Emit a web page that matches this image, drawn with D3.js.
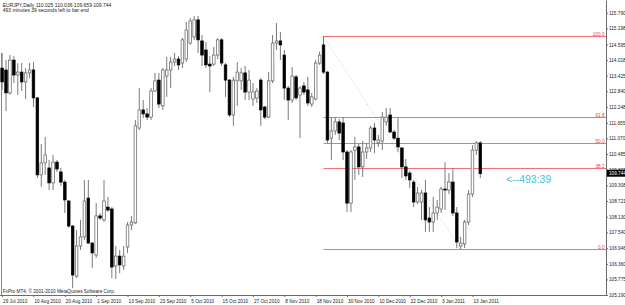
<!DOCTYPE html>
<html>
<head>
<meta charset="utf-8">
<title>EURJPY Daily</title>
<script src="https://cdn.jsdelivr.net/npm/d3@7"></script>
<style>
  body { margin: 0; background: #fff; }
  svg { display: block; font-family: "Liberation Sans", Arial, sans-serif; }
</style>
</head>
<body>
<script>
// daily bars, 29 Jul 2010 .. 17 Jan 2011
const opens = [
  113.71, 113.64, 112.78, 114.01, 113.45, 113.56, 113.19, 113.53, 113.64, 112.59,
  109.70, 110.15, 109.96, 109.40, 110.18, 109.81, 109.43, 108.72, 107.78, 105.90,
  107.03, 107.37, 108.83, 107.14, 106.69, 108.16, 108.01, 108.49, 108.42, 106.28,
  106.65, 106.28, 106.99, 107.82, 107.90, 111.46, 112.14, 111.99, 111.87, 112.85,
  113.26, 112.29, 113.41, 113.64, 113.94, 114.05, 113.90, 114.05, 114.65, 114.88,
  115.52, 114.73, 114.39, 113.86, 113.86, 114.20, 114.77, 113.83, 113.26, 111.95,
  113.23, 113.23, 113.53, 112.81, 112.55, 112.59, 113.26, 112.25, 111.87, 113.23,
  114.65, 114.73, 114.20, 112.96, 112.51, 113.38, 112.70, 113.04, 112.89, 112.36,
  112.55, 113.90, 114.58, 113.56, 111.08, 111.35, 111.69, 111.65, 110.56, 108.64,
  110.63, 110.75, 110.00, 110.56, 110.71, 111.46, 110.90, 110.97, 111.69, 111.95,
  111.31, 111.08, 110.71, 110.00, 109.77, 109.43, 108.68, 108.68, 109.02, 108.08,
  107.93, 108.27, 108.42, 109.17, 109.13, 109.43, 108.27, 107.03, 107.11, 107.93,
  108.98, 110.63, 110.90
];
const highs = [
  114.28, 114.01, 114.20, 114.16, 113.90, 113.90, 113.71, 113.90, 113.94, 112.63,
  110.86, 111.12, 110.26, 110.45, 110.26, 109.96, 109.51, 108.76, 107.82, 107.63,
  108.01, 109.51, 109.51, 107.18, 108.64, 108.27, 109.51, 108.87, 108.49, 107.03,
  106.88, 107.03, 107.93, 108.16, 111.76, 112.96, 112.51, 112.21, 112.96, 113.53,
  113.53, 113.71, 114.13, 114.13, 114.28, 114.16, 114.84, 115.44, 115.59, 115.67,
  115.67, 114.95, 114.69, 114.16, 114.50, 114.84, 114.84, 113.90, 113.30, 113.38,
  113.94, 113.71, 113.79, 113.64, 113.15, 112.96, 113.34, 112.29, 113.56, 114.95,
  115.40, 115.07, 114.39, 113.04, 113.75, 113.45, 113.04, 113.19, 113.38, 112.78,
  114.01, 114.33, 114.915, 113.60, 111.87, 111.87, 111.80, 111.87, 110.63, 110.63,
  111.12, 110.86, 110.97, 110.90, 111.54, 111.65, 111.20, 112.06, 112.21, 112.21,
  111.39, 111.87, 110.75, 110.30, 109.85, 109.51, 109.25, 109.13, 109.51, 108.49,
  108.87, 108.76, 109.25, 110.18, 109.77, 109.96, 108.49, 107.37, 108.01, 109.13,
  110.82, 110.97, 110.97
];
const lows = [
  112.89, 112.10, 112.70, 113.15, 112.70, 112.85, 112.55, 113.34, 112.25, 109.58,
  109.25, 109.70, 109.13, 109.13, 109.81, 109.28, 108.27, 107.71, 105.45, 105.83,
  106.88, 107.26, 107.11, 106.20, 106.58, 108.01, 107.93, 108.31, 105.82, 105.79,
  106.01, 106.13, 106.77, 107.63, 107.86, 111.39, 111.83, 111.76, 111.76, 112.81,
  112.21, 112.14, 112.63, 112.96, 113.79, 113.64, 113.71, 113.94, 114.58, 114.77,
  114.28, 113.79, 113.71, 112.81, 113.79, 114.05, 113.79, 112.63, 111.87, 111.54,
  112.29, 112.89, 112.51, 112.51, 112.29, 112.40, 111.54, 111.80, 111.83, 113.15,
  114.39, 114.01, 112.51, 111.76, 112.40, 112.51, 111.08, 112.70, 112.29, 112.25,
  112.51, 113.83, 113.49, 110.90, 110.26, 111.20, 111.01, 110.26, 108.31, 108.31,
  109.51, 109.70, 109.62, 110.30, 110.56, 110.52, 110.75, 110.63, 111.54, 111.27,
  111.01, 110.56, 109.58, 109.51, 109.21, 108.49, 108.60, 108.01, 107.56, 107.56,
  107.56, 108.01, 108.27, 108.38, 108.98, 108.16, 106.95, 106.905, 106.95, 107.82,
  108.87, 110.45, 109.58
];
const closes = [
  113.19, 112.78, 114.01, 113.45, 113.56, 113.19, 113.53, 113.64, 112.59, 109.70,
  110.15, 110.45, 109.40, 110.18, 109.92, 109.43, 108.76, 107.78, 105.94, 107.03,
  107.37, 108.72, 107.14, 106.77, 108.16, 108.08, 108.72, 108.38, 106.24, 106.65,
  106.32, 106.65, 107.82, 107.93, 111.54, 112.14, 111.99, 111.87, 112.85, 113.23,
  112.36, 113.64, 113.64, 113.94, 114.05, 113.83, 114.77, 115.14, 115.48, 115.52,
  114.77, 114.20, 113.83, 113.79, 114.20, 114.77, 113.90, 113.26, 111.95, 113.26,
  113.56, 113.53, 112.81, 113.26, 112.81, 112.85, 112.14, 111.87, 113.23, 114.65,
  114.73, 114.58, 112.96, 112.51, 113.41, 112.59, 112.96, 112.81, 112.40, 112.63,
  113.90, 114.20, 113.56, 111.01, 111.35, 111.69, 111.27, 110.56, 108.64, 110.56,
  110.75, 110.00, 110.56, 110.71, 111.46, 111.01, 111.01, 111.87, 111.87, 111.31,
  111.08, 110.75, 110.00, 109.66, 109.51, 108.68, 109.02, 109.02, 108.01, 107.93,
  108.27, 108.49, 109.17, 109.13, 109.43, 108.27, 107.18, 107.14, 107.93, 108.98,
  110.63, 110.90, 109.744
];

const dateLabels = ['29 Jul 2010', '10 Aug 2010', '20 Aug 2010', '1 Sep 2010', '13 Sep 2010',
  '23 Sep 2010', '5 Oct 2010', '15 Oct 2010', '27 Oct 2010', '8 Nov 2010', '18 Nov 2010',
  '30 Nov 2010', '10 Dec 2010', '22 Dec 2010', '3 Jan 2011', '13 Jan 2011'];
const dateBars = [0, 8, 16, 24, 32, 40, 48, 56, 64, 72, 80, 88, 96, 104, 112, 120];

const priceTicks = [115.790, 115.198, 114.595, 114.018, 113.425, 112.840, 112.248, 111.655,
  111.070, 110.485, 109.895, 109.308, 108.721, 108.130, 107.540, 106.946, 106.360, 105.775, 105.190];

const fibLevels = [0, 38.2, 50, 61.8, 100];
const fibHighBar = 82, fibLowBar = 117;
const lastPrice = 109.744;

const header1 = 'EURJPY,Daily  110.025 110.036 109.659 109.744';
const header2 = '493 minutes 39 seconds left to bar end';
const footer = 'FxPro MT4, \u00a9 2001-2010 MetaQuotes Software Corp.';
const countdown = '<--493:39';

const width = 625, height = 305;
const plotRight = 606, plotBottom = 295;
const tiny = 4.7;

const svg = d3.select('body').append('svg').attr('width', width).attr('height', height);

const x = d3.scaleLinear().domain([0, opens.length - 1]).range([2.1, 480.3]);
const y = d3.scaleLinear().domain([105.19, 116.267]).range([plotBottom, 0]);

// left edge line
svg.append('line')
  .attr('x1', 1.5).attr('x2', 1.5).attr('y1', 53).attr('y2', plotBottom)
  .attr('stroke', '#8a8a8a');

// fibonacci retracement
const fibHi = highs[fibHighBar], fibLo = lows[fibLowBar];
const fibY = l => y(fibLo + (fibHi - fibLo) * l / 100);

svg.append('line')
  .attr('x1', x(fibHighBar)).attr('y1', y(fibHi))
  .attr('x2', x(fibLowBar)).attr('y2', y(fibLo))
  .attr('stroke', '#a6dbe6').attr('stroke-dasharray', '1,2');

const fib = svg.append('g');
fib.selectAll('line').data(fibLevels).join('line')
  .attr('x1', x(fibHighBar)).attr('x2', plotRight)
  .attr('y1', d => Math.round(fibY(d)) + 0.5).attr('y2', d => Math.round(fibY(d)) + 0.5)
  .attr('stroke', '#f07272');
fib.selectAll('text').data(fibLevels).join('text')
  .attr('x', plotRight - 1.5).attr('y', d => Math.round(fibY(d)) - 0.5)
  .attr('text-anchor', 'end').attr('font-size', tiny).attr('fill', '#e04848')
  .text(d => d.toFixed(1));

// candles
const bars = svg.append('g');
const idx = d3.range(opens.length);
bars.selectAll('line').data(idx).join('line')
  .attr('x1', i => x(i)).attr('x2', i => x(i))
  .attr('y1', i => y(highs[i])).attr('y2', i => y(lows[i]))
  .attr('stroke', '#7a7a7a').attr('stroke-width', 1);
bars.selectAll('rect').data(idx).join('rect')
  .attr('x', i => x(i) - 1.3)
  .attr('width', 2.6)
  .attr('y', i => y(Math.max(opens[i], closes[i])))
  .attr('height', i => Math.max(1, Math.abs(y(opens[i]) - y(closes[i]))))
  .attr('fill', i => closes[i] >= opens[i] ? '#fff' : '#000')
  .attr('stroke', i => closes[i] >= opens[i] ? '#5e5e5e' : '#000')
  .attr('stroke-width', 0.7);

// price axis
const yAxis = svg.append('g')
  .attr('transform', `translate(${plotRight},0)`)
  .call(d3.axisRight(y).tickValues(priceTicks).tickSize(2).tickSizeOuter(0)
    .tickPadding(1).tickFormat(d3.format('.3f')));
yAxis.select('.domain').attr('stroke', '#6a6a6a');
yAxis.selectAll('.tick line').attr('stroke', '#6a6a6a');
yAxis.selectAll('text').attr('font-size', tiny).attr('fill', '#222').attr('font-family', null);

// time axis
svg.append('line')
  .attr('x1', 0).attr('x2', plotRight).attr('y1', plotBottom + 0.5).attr('y2', plotBottom + 0.5)
  .attr('stroke', '#6a6a6a');
const xAxis = svg.append('g')
  .attr('transform', `translate(0,${plotBottom})`)
  .call(d3.axisBottom(x).tickValues(dateBars).tickSize(2)
    .tickFormat((d, i) => dateLabels[i]));
xAxis.select('.domain').remove();
xAxis.selectAll('.tick line').attr('stroke', '#6a6a6a');
xAxis.selectAll('text').attr('font-size', tiny).attr('fill', '#222')
  .attr('text-anchor', 'start').attr('x', 0.5).attr('font-family', null);

// current price marker
svg.append('rect')
  .attr('x', plotRight + 1).attr('y', y(lastPrice) - 4)
  .attr('width', width - plotRight - 1).attr('height', 7)
  .attr('fill', '#000');
svg.append('text')
  .attr('x', plotRight + 3).attr('y', y(lastPrice) + 1.6)
  .attr('font-size', tiny).attr('fill', '#fff')
  .text(d3.format('.3f')(lastPrice));

// countdown label
svg.append('text')
  .attr('x', 506).attr('y', y(lastPrice) + 9.5)
  .attr('font-size', 10.5).attr('fill', '#45c4d8')
  .text(countdown);

// header and footer
svg.append('text').attr('x', 2.7).attr('y', 6.8)
  .attr('font-size', 5).attr('fill', '#222').text(header1);
svg.append('text').attr('x', 2.7).attr('y', 11.6)
  .attr('font-size', 5).attr('fill', '#222').text(header2);
svg.append('text').attr('x', 2.7).attr('y', 293.3)
  .attr('font-size', tiny).attr('fill', '#222').text(footer);
</script>
</body>
</html>
